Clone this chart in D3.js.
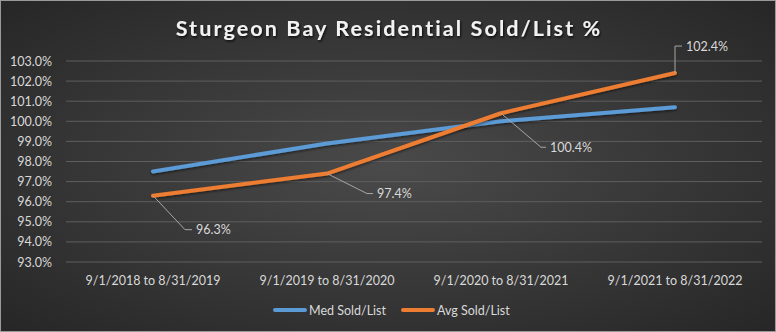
<!DOCTYPE html>
<html><head><meta charset="utf-8">
<script src="https://cdn.jsdelivr.net/npm/d3@7"></script>
<style>
html,body{margin:0;padding:0;background:#2a2a2a;}
svg{display:block;}
text{font-family:Lato,"Open Sans",sans-serif;}
</style></head>
<body>
<svg id="chart" width="776" height="332"></svg>
<script>
const categories = ["9/1/2018 to 8/31/2019","9/1/2019 to 8/31/2020","9/1/2020 to 8/31/2021","9/1/2021 to 8/31/2022"];
const medSoldList = [97.5, 98.9, 100.0, 100.7];
const avgSoldList = [96.3, 97.4, 100.4, 102.4];
const yTicks = [93,94,95,96,97,98,99,100,101,102,103];
const seriesNames = ["Med Sold/List","Avg Sold/List"];
const title = "Sturgeon Bay Residential Sold/List %";

const W = 776, H = 332;
const svg = d3.select("#chart");
const defs = svg.append("defs");
const rg = defs.append("radialGradient").attr("id","bg").attr("cx","50%").attr("cy","50%").attr("r","75%");
rg.append("stop").attr("offset","0%").attr("stop-color","#4a4a4a");
rg.append("stop").attr("offset","100%").attr("stop-color","#242424");
const f = defs.append("filter").attr("id","shadow").attr("x","-10%").attr("y","-30%").attr("width","120%").attr("height","160%");
f.append("feDropShadow").attr("dx",1).attr("dy",1.5).attr("stdDeviation",1.2).attr("flood-color","#000").attr("flood-opacity",0.8);
const ls = defs.append("filter").attr("id","lshadow").attr("x","-10%").attr("y","-30%").attr("width","120%").attr("height","160%");
ls.append("feDropShadow").attr("dx",0).attr("dy",1.5).attr("stdDeviation",1).attr("flood-color","#000").attr("flood-opacity",0.5);

svg.append("rect").attr("width",W).attr("height",H).attr("fill","url(#bg)");
svg.append("rect").attr("x",0.5).attr("y",0.5).attr("width",W-1).attr("height",H-1).attr("fill","none").attr("stroke","#9a9a9a").attr("stroke-width",1);

const x = d3.scaleBand().domain(categories).range([66,762]);
const y = d3.scaleLinear().domain([93,103]).range([262,61]);

// grid
svg.append("g").selectAll("line").data(yTicks).join("line")
  .attr("x1",66).attr("x2",762).attr("y1",d=>y(d)).attr("y2",d=>y(d))
  .attr("stroke","#5e5e5e").attr("stroke-width",1);

// y axis
const yAxis = d3.axisLeft(y).tickValues(yTicks).tickFormat(d=>d.toFixed(1)+"%").tickSize(0).tickPadding(12);
const gy = svg.append("g").attr("transform","translate(64,0)").call(yAxis);
gy.select(".domain").remove();
gy.selectAll("text").attr("fill","#d9d9d9").attr("font-size",12.5);

// x axis
const xAxis = d3.axisBottom(x).tickSize(0).tickPadding(14);
const gx = svg.append("g").attr("transform","translate(0,262)").call(xAxis);
gx.select(".domain").remove();
gx.selectAll("text").attr("fill","#d9d9d9").attr("font-size",12.5);

// title
svg.append("text").attr("x",389).attr("y",36).attr("text-anchor","middle")
  .attr("font-size",21.5).attr("font-weight","bold").attr("fill","#f2f2f2")
  .attr("letter-spacing",2.1).attr("filter","url(#shadow)").text(title);

const cx = d => x(d) + x.bandwidth()/2;
const line = d3.line().x((d,i)=>cx(categories[i])).y(d=>y(d));
const colors = ["#5b9bd5","#ed7d31"];
[medSoldList, avgSoldList].forEach((s,k)=>{
  svg.append("path").datum(s).attr("d",line).attr("fill","none")
    .attr("stroke",colors[k]).attr("stroke-width",4).attr("stroke-linecap","round").attr("stroke-linejoin","round")
    .attr("filter","url(#lshadow)");
});

// data labels for avg series with leader lines: [dx, dy, horizontal length]
const labelOffsets = [[32,34,7],[40,20,6],[40,34,5],[0,-27,7]];
avgSoldList.forEach((v,i)=>{
  const px = cx(categories[i]), py = y(v);
  const [dx,dy,hl] = labelOffsets[i];
  const lx = px+dx, ly = py+dy;
  const pts = [[px,py],[lx,ly],[lx+hl,ly]];
  svg.append("path").attr("d",d3.line()(pts)).attr("fill","none").attr("stroke","#a6a6a6").attr("stroke-width",1);
  svg.append("text").attr("x",lx+hl+4).attr("y",ly+4.5).attr("font-size",12.5).attr("fill","#d9d9d9")
    .text(v.toFixed(1)+"%");
});

// legend
const legX = [275, 403];
seriesNames.forEach((n,k)=>{
  svg.append("line").attr("x1",legX[k]).attr("x2",legX[k]+30).attr("y1",310).attr("y2",310)
    .attr("stroke",colors[k]).attr("stroke-width",4).attr("stroke-linecap","round");
  svg.append("text").attr("x",legX[k]+34).attr("y",314.5).attr("font-size",12.5).attr("fill","#d9d9d9").text(n);
});
</script>
</body></html>
